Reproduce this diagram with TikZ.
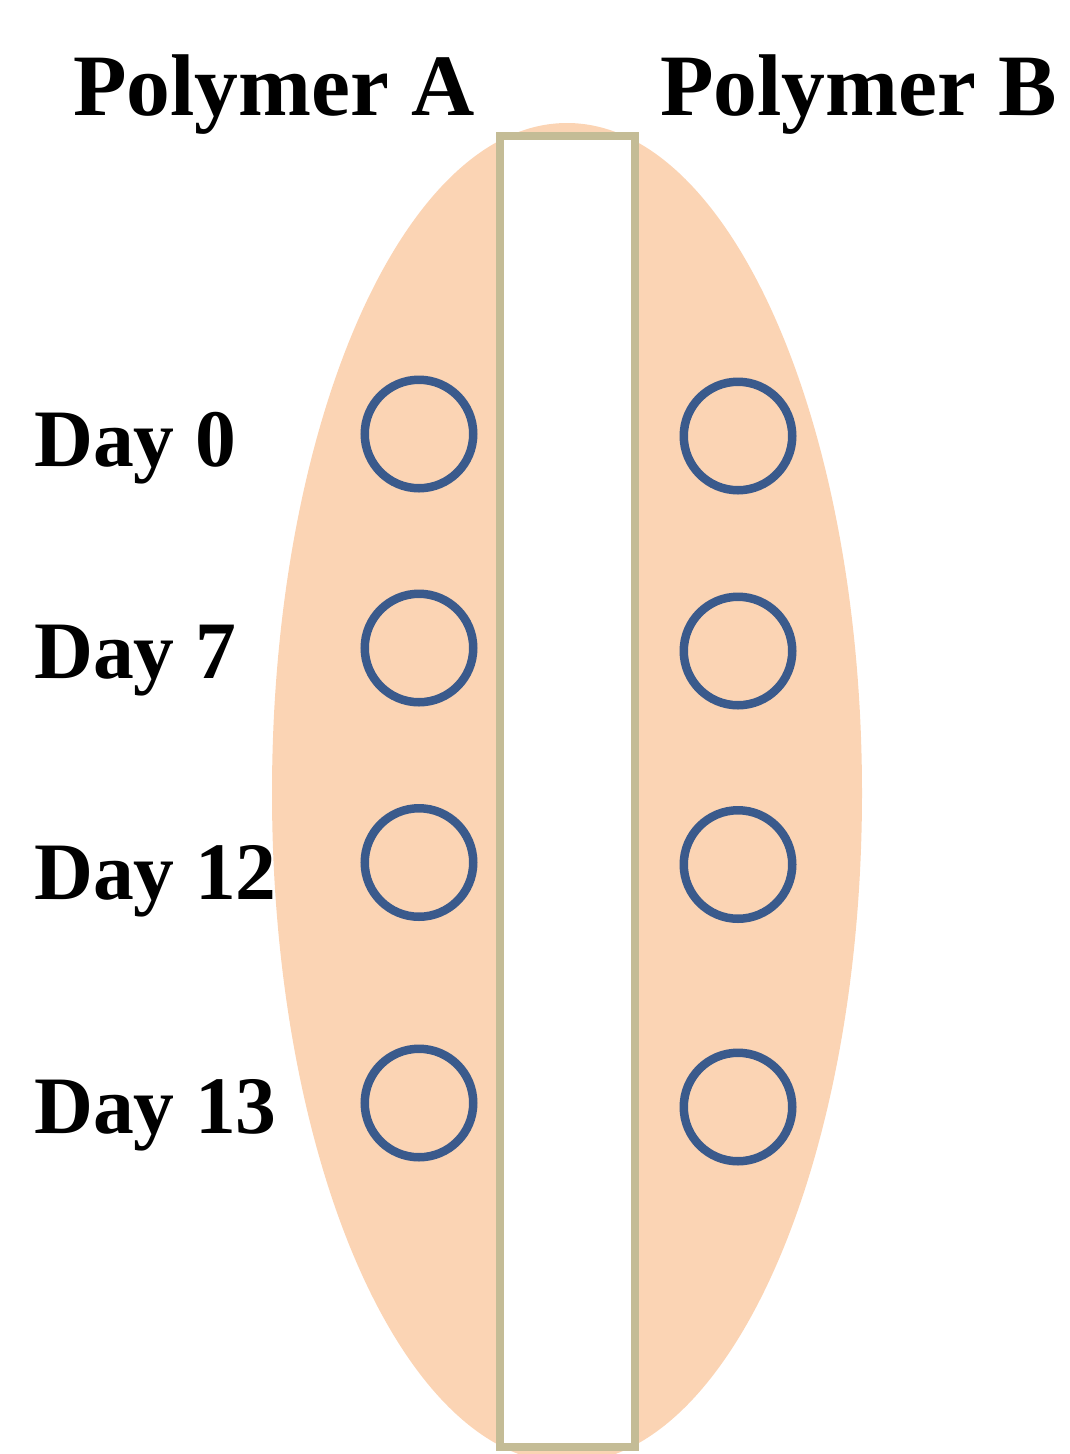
\documentclass[tikz,border=0pt]{standalone}
\usepackage{fontspec}
\setmainfont{Liberation Serif}
\usetikzlibrary{shapes.geometric}
\definecolor{peach}{HTML}{FBD4B4}
\definecolor{ringblue}{HTML}{3A5A8C}
\definecolor{tanedge}{HTML}{C4BC96}
\tikzset{
  ring/.style={circle, draw=ringblue, line width=8.5pt, minimum size=108.5pt, inner sep=0pt},
  daylabel/.style={anchor=base west, inner sep=0pt, font=\fontsize{81.6}{90}\selectfont\bfseries},
  polylabel/.style={anchor=base west, inner sep=0pt, font=\fontsize{87.6}{96}\selectfont\bfseries},
  strip/.style={rectangle, draw=tanedge, fill=white, line width=8pt, minimum width=135pt, minimum height=1311pt, inner sep=0pt},
  body/.style={ellipse, fill=peach, minimum width=590pt, minimum height=1340pt, inner sep=0pt}
}
\begin{document}
\begin{tikzpicture}[x=1pt,y=-1pt]
\useasboundingbox (0,0) rectangle (1069,1454);
\node[body] (ell) at (567,793) {};
\node[strip] (bar) at (567,791.5) {};
\node[polylabel] (pa) at (73,115) {Polymer A};
\node[polylabel] (pb) at (660,115) {Polymer B};
\node[daylabel] (d0) at (34,466) {Day 0};
\node[daylabel] (d7) at (34,678) {Day 7};
\node[daylabel] (d12) at (34,899) {Day 12};
\node[daylabel] (d13) at (34,1133) {Day 13};
\node[ring] (a0) at (419,434) {};
\node[ring] (a7) at (419,648) {};
\node[ring] (a12) at (419,862.5) {};
\node[ring] (a13) at (419,1103) {};
\node[ring] (b0) at (738,436) {};
\node[ring] (b7) at (738,651) {};
\node[ring] (b12) at (738,864.5) {};
\node[ring] (b13) at (738,1107) {};
\end{tikzpicture}
\end{document}
